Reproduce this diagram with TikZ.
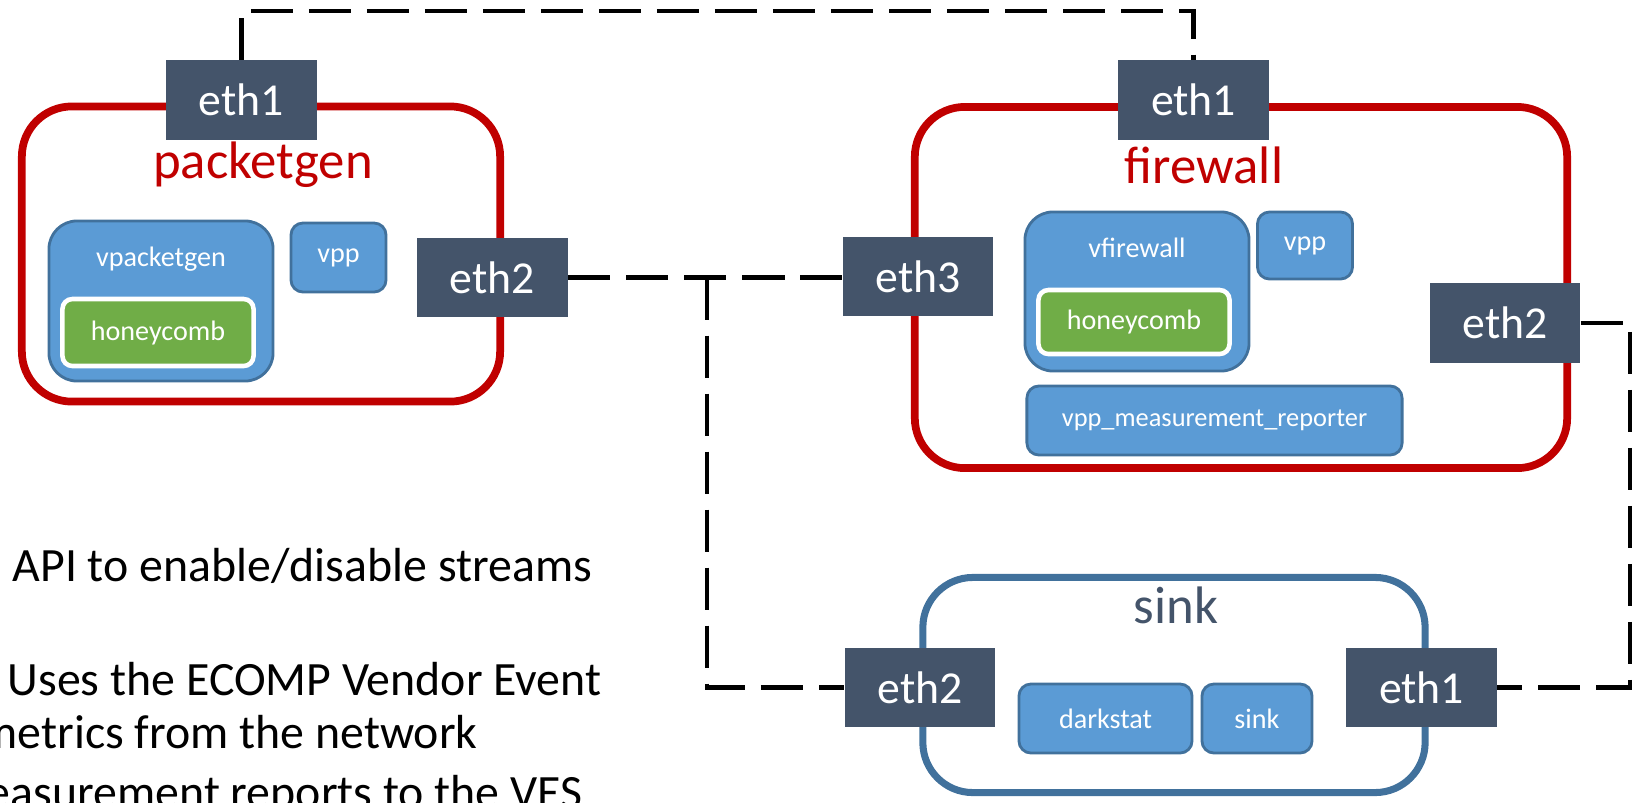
\documentclass[tikz,border=0pt]{standalone}
\usepackage{fontspec}
\setmainfont{Carlito}
\usetikzlibrary{positioning}

\definecolor{portgray}{HTML}{44546A}
\definecolor{vmred}{HTML}{C00000}
\definecolor{appblue}{HTML}{5B9BD5}
\definecolor{appedge}{HTML}{41719C}
\definecolor{hcgreen}{HTML}{70AD47}

\tikzset{
  vm/.style={draw=vmred, line width=2.2pt, rounded corners=0.5cm, inner sep=0},
  sinkvm/.style={vm, draw=appedge, line width=2pt},
  port/.style={fill=portgray, text=white, inner sep=0, minimum width=1.5cm,
    minimum height=0.79cm, font=\fontsize{13}{15}\selectfont},
  app/.style={draw=appedge, fill=appblue, line width=0.8pt, text=white, inner sep=0,
    rounded corners=0.12cm, font=\fontsize{8}{10}\selectfont},
  honey/.style={app, draw=white, fill=hcgreen, line width=1.3pt, rounded corners=0.1cm},
  apptext/.style={text=white, inner sep=0, font=\fontsize{8}{10}\selectfont},
  vmtitle/.style={text=vmred, inner sep=0, font=\fontsize{15}{18}\selectfont},
  link/.style={line width=1.4pt, dash pattern=on 12pt off 4.5pt},
  note/.style={anchor=base west, inner sep=0, font=\fontsize{13.6}{16}\selectfont}
}

\begin{document}
\begin{tikzpicture}[x=0.01cm,y=-0.01cm]
  \useasboundingbox (0,0) rectangle (1635,802);
  \clip (0,0) rectangle (1635,802);

  % packetgen
  \node[vm, minimum width=4.78cm, minimum height=2.95cm] (pg) at (261,254) {};
  \node[port] (pgeth1) at (241.5,100) {eth1};
  \node[vmtitle] (pgtitle) at (263,165) {packetgen};
  \node[app, rounded corners=0.28cm, minimum width=2.24cm, minimum height=1.6cm] (vpg) at (161,301) {};
  \node[apptext, below=0.27cm of vpg.north] (vpglabel) {vpacketgen};
  \node[honey, minimum width=1.91cm, minimum height=0.67cm] (pghc) at (158,332.5) {honeycomb};
  \node[app, minimum width=0.95cm, minimum height=0.69cm] (pgvpp) at (338.5,257.5) {vpp};
  \node[port] (pgeth2) at (492.5,277.5) {eth2};

  % firewall
  \node[vm, minimum width=6.52cm, minimum height=3.61cm] (fw) at (1241,287.5) {};
  \node[port] (fweth1) at (1193.5,100) {eth1};
  \node[vmtitle] (fwtitle) at (1204,165) {firewall};
  \node[port] (fweth3) at (918,276.5) {eth3};
  \node[app, rounded corners=0.28cm, minimum width=2.24cm, minimum height=1.59cm] (vfw) at (1137,291.5) {};
  \node[apptext, below=0.27cm of vfw.north] (vfwlabel) {vfirewall};
  \node[honey, minimum width=1.91cm, minimum height=0.64cm] (fwhc) at (1134,322) {honeycomb};
  \node[app, minimum width=0.95cm, minimum height=0.67cm] (fwvpp) at (1305,245.5) {vpp};
  \node[app, minimum width=3.75cm, minimum height=0.69cm, font=\fontsize{7.5}{9}\selectfont] (reporter) at (1214.5,420.5) {vpp\_measurement\_reporter};
  \node[port] (fweth2) at (1505,323) {eth2};

  % sink
  \node[sinkvm, minimum width=5.02cm, minimum height=2.15cm] (sk) at (1174,685) {};
  \node[vmtitle, text=portgray] (sktitle) at (1176,605) {sink};
  \node[port] (sketh2) at (920,687.7) {eth2};
  \node[port] (sketh1) at (1421.5,687.7) {eth1};
  \node[app, minimum width=1.73cm, minimum height=0.69cm] (darkstat) at (1105.5,718.5) {darkstat};
  \node[app, minimum width=1.1cm, minimum height=0.69cm] (skapp) at (1257,718.5) {sink};

  % links
  \coordinate (topbend) at (0,11);
  \coordinate (split) at (707,0);
  \coordinate (rightbend) at (1630,0);
  \draw[link] (pgeth1.north) -- (pgeth1.north |- topbend) -| (fweth1.north);
  \draw[link] (pgeth2.east) -- (pgeth2.east -| fweth3.west);
  \draw[link] (split |- pgeth2.east) |- (sketh2.west);
  \draw[link] (fweth2.east) -- (fweth2.east -| rightbend) |- (sketh1.east);

  % notes
  \node[note] (api) at (12,581) {API to enable/disable streams};
  \node[note] (uses) at (7,695) {Uses the ECOMP Vendor Event};
  \node[note] (metrics) at (-21,748) {metrics from the network};
  \node[note] (reports) at (-52,808) {measurement reports to the VES};
\end{tikzpicture}
\end{document}
